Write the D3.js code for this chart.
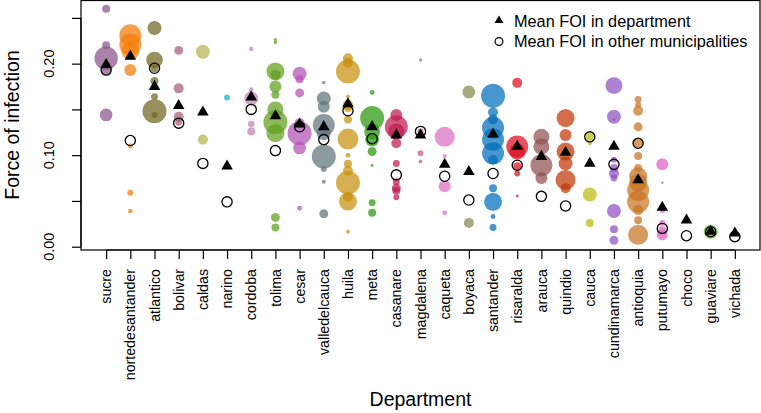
<!DOCTYPE html>
<html><head><meta charset="utf-8">
<script src="https://cdn.jsdelivr.net/npm/d3@7"></script>
<style>body{margin:0;background:#fff}svg{display:block}text{font-family:"Liberation Sans",Arial,sans-serif;fill:#000}</style>
</head><body>
<script>
const departments = ["sucre","nortedesantander","atlantico","bolivar","caldas","narino","cordoba","tolima","cesar","valledelcauca","huila","meta","casanare","magdalena","caqueta","boyaca","santander","risaralda","arauca","quindio","cauca","cundinamarca","antioquia","putumayo","choco","guaviare","vichada"];

// municipality FOI values per department
const muniFOI = [
  [0.260,0.220,0.206,0.193,0.144],
  [0.231,0.221,0.214,0.193,0.110,0.059,0.039],
  [0.239,0.204,0.195,0.181,0.164,0.148,0.144],
  [0.2145,0.173,0.142,0.136],
  [0.213,0.117],
  [0.163],
  [0.216,0.1715,0.162,0.134,0.126],
  [0.226,0.223,0.1915,0.188,0.175,0.166,0.150,0.136,0.124,0.032,0.021],
  [0.189,0.183,0.168,0.135,0.124,0.108,0.042],
  [0.1795,0.162,0.153,0.133,0.124,0.0985,0.085,0.071,0.036],
  [0.206,0.201,0.1915,0.164,0.155,0.1515,0.139,0.1176,0.100,0.0905,0.083,0.070,0.0547,0.0493,0.0164],
  [0.1686,0.1405,0.126,0.117,0.104,0.0887,0.048,0.037],
  [0.144,0.131,0.126,0.113,0.091,0.071,0.064,0.061,0.054],
  [0.204,0.126,0.102,0.093],
  [0.120,0.099,0.066,0.037],
  [0.169,0.026],
  [0.165,0.147,0.139,0.130,0.117,0.102,0.095,0.064,0.049,0.033,0.021],
  [0.179,0.1095,0.104,0.088,0.080,0.0555],
  [0.120,0.1095,0.089,0.075],
  [0.1405,0.122,0.104,0.091,0.073,0.064],
  [0.120,0.113,0.057,0.026],
  [0.176,0.142,0.139,0.095,0.086,0.080,0.075,0.039,0.019,0.007],
  [0.161,0.155,0.1485,0.131,0.113,0.099,0.086,0.077,0.070,0.062,0.049,0.040,0.029,0.013],
  [0.090,0.070,0.040,0.026,0.018,0.013],
  [],
  [0.0164],
  []
];

// municipality weights (bubble size)
const muniWeight = [
  [16,16,137,25,40],
  [121,121,81,36,6,9,5],
  [49,69,16,16,12,144,9],
  [20,25,25,12],
  [49,25],
  [9],
  [5,6,49,11,16],
  [3,3,81,25,36,16,64,144,81,20,16],
  [49,16,20,25,144,42,6],
  [3,49,36,121,49,144,9,4,20],
  [25,25,144,4,25,16,16,110,6,16,25,144,25,81,4],
  [6,144,64,49,20,2,12,16],
  [36,132,64,25,12,12,20,16,9],
  [3,9,9,4],
  [100,4,36,6],
  [42,25],
  [144,25,25,121,121,121,25,16,81,6,12],
  [25,121,64,16,9,2],
  [64,64,121,36],
  [81,36,81,49,100,25],
  [16,4,49,16],
  [72,49,2,9,16,25,12,49,16,20],
  [12,9,25,20,25,16,16,81,81,121,121,25,16,100],
  [36,2,9,9,16,30],
  [],
  [49],
  []
];

const meanDept = [0.199,0.208,0.175,0.154,0.147,0.088,0.1635,0.143,0.134,0.131,0.156,0.131,0.122,0.122,0.090,0.082,0.123,0.1095,0.0985,0.103,0.091,0.1095,0.073,0.043,0.029,0.0168,0.0147];
const meanOther = [0.193,0.116,0.195,0.135,0.091,0.049,0.150,0.105,0.131,0.117,0.1485,0.118,0.0785,0.126,0.077,0.051,0.080,0.089,0.055,0.0445,0.120,0.090,0.113,0.020,0.012,0.0164,0.011];

const yTicks = [0,0.05,0.10,0.15,0.20,0.25];
const yTickLabels = ["0.00","","0.10","","0.20",""];
const legendLabels = ["Mean FOI in department","Mean FOI in other municipalities"];

// apparent colours (as seen over white)
const palette = ["#a983a9","#f7a04b","#96915f","#be8c9b","#c8c882","#50c8dc","#d2a5c8","#8cb95a","#c882c8","#8c9ba0","#d7af50","#64b450","#d25a82","#d28caf","#e696d2","#aaaa82","#4696cd","#e6505f","#af8282","#d26e4b","#cdcd50","#af82d2","#d79b5f","#e68cd2","#999999","#8cc864","#999999"];
const alpha = 0.72;
function baseColor(c){const r=d3.rgb(c);const f=v=>Math.max(0,Math.min(255,(v-255*(1-alpha))/alpha));return d3.rgb(f(r.r),f(r.g),f(r.b)).formatHex();}

const W=761,H=413;
const L=81,R=760,T=0.5,B=250;
const svg=d3.select("body").append("svg").attr("width",W).attr("height",H);

const x=d3.scalePoint().domain(departments).range([L,R]).padding(1.04);
const y=d3.scaleLinear().domain([-0.0036,0.2690]).range([B,T]);
const rScale=d3.scaleSqrt().domain([0,144]).range([0,12]);

// bubbles
const pts=[];
departments.forEach((d,i)=>{muniFOI[i].forEach((v,j)=>pts.push({d,i,v,w:muniWeight[i][j]}));});
svg.append("g").selectAll("circle").data(pts).join("circle")
  .attr("cx",p=>x(p.d)).attr("cy",p=>y(p.v)).attr("r",p=>rScale(p.w))
  .attr("fill",p=>baseColor(palette[p.i])).attr("fill-opacity",alpha);

// mean other municipalities (open circles)
svg.append("g").selectAll("circle").data(departments).join("circle")
  .attr("cx",d=>x(d)).attr("cy",(d,i)=>y(meanOther[i])).attr("r",5.1)
  .attr("fill","none").attr("stroke","#000").attr("stroke-width",1.3);

// mean in department (triangles)
const tri=d3.symbol().type(d3.symbolTriangle).size(58);
svg.append("g").selectAll("path").data(departments).join("path")
  .attr("d",tri).attr("fill","#000")
  .attr("transform",(d,i)=>`translate(${x(d)},${y(meanDept[i])})`);

// box
svg.append("rect").attr("x",L).attr("y",T).attr("width",R-L).attr("height",B-T)
  .attr("fill","none").attr("stroke","#000").attr("stroke-width",1.2);

// x axis
const xAxis=svg.append("g").attr("transform",`translate(0,${B})`)
  .call(d3.axisBottom(x).tickSize(9).tickSizeOuter(0).tickFormat(""));
xAxis.select(".domain").attr("d",`M${x(departments[0])},0H${x(departments[departments.length-1])}`).attr("stroke-width",1.2);
xAxis.selectAll(".tick line").attr("stroke-width",1.2);
svg.append("g").selectAll("text").data(departments).join("text")
  .attr("transform",d=>`translate(${x(d)},269) rotate(-90)`)
  .attr("text-anchor","end").attr("dy","0.36em").style("font-size","14.2px").text(d=>d);

// y axis
const yAxis=svg.append("g").attr("transform",`translate(${L},0)`)
  .call(d3.axisLeft(y).tickValues(yTicks).tickSize(9).tickSizeOuter(0).tickFormat(""));
yAxis.select(".domain").attr("d",`M0,${y(yTicks[0])}V${y(yTicks[yTicks.length-1])}`).attr("stroke-width",1.2);
yAxis.selectAll(".tick line").attr("stroke-width",1.2);
svg.append("g").selectAll("text").data(yTicks).join("text")
  .attr("transform",d=>`translate(53.5,${y(d)}) rotate(-90)`)
  .attr("text-anchor","middle").style("font-size","14.5px").text((d,i)=>yTickLabels[i]);

// axis titles
svg.append("text").attr("transform",`translate(19,125) rotate(-90)`).attr("text-anchor","middle")
  .style("font-size","19.5px").text("Force of infection");
svg.append("text").attr("x",(L+R)/2).attr("y",406).attr("text-anchor","middle")
  .style("font-size","19.5px").text("Department");

// legend
const lg=svg.append("g");
lg.append("path").attr("d",d3.symbol().type(d3.symbolTriangle).size(34)).attr("transform","translate(499,20.5)");
lg.append("circle").attr("cx",499).attr("cy",41.5).attr("r",3.9).attr("fill","none").attr("stroke","#000").attr("stroke-width",1.2);
lg.selectAll("text").data(legendLabels).join("text").attr("x",514).attr("y",(d,i)=>26.5+i*20.5)
  .style("font-size","16.3px").text(d=>d);
</script>
</body></html>
